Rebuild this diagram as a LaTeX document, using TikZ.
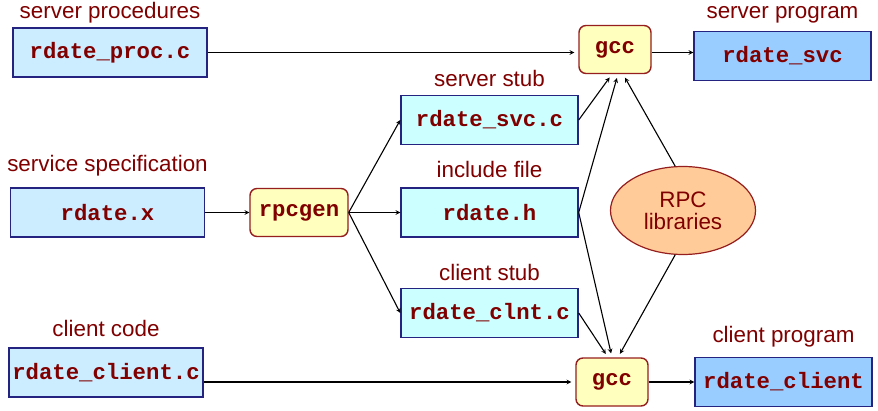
\documentclass[tikz,border=0pt]{standalone}
\usepackage{fontspec}
\setmainfont{Liberation Sans}
\setmonofont{Liberation Mono}
\usepackage{xcolor}
\usetikzlibrary{shapes,arrows,positioning,calc}

\definecolor{codered}{RGB}{128,0,0}
\definecolor{boxline}{RGB}{36,36,128}
\definecolor{toolline}{RGB}{150,30,30}
\definecolor{srcblue}{RGB}{204,236,255}
\definecolor{stubcyan}{RGB}{204,255,255}
\definecolor{progblue}{RGB}{153,204,255}
\definecolor{toolyellow}{RGB}{255,255,190}
\definecolor{liborange}{RGB}{255,204,153}

\begin{document}
\begin{tikzpicture}[
    x=1pt, y=1pt,
    node distance=160pt,
    every label/.style={text=codered, font=\fontsize{22.4}{26}\selectfont, inner sep=0pt, text depth=0pt},
    file/.style={rectangle, draw=boxline, line width=1.4pt, text=codered, font=\fontsize{22.3}{26}\selectfont\ttfamily\bfseries, minimum height=49pt, inner sep=2pt},
    source/.style={file, fill=srcblue, minimum width=194pt},
    stub/.style={file, fill=stubcyan, minimum width=177pt},
    program/.style={file, fill=progblue, minimum width=177pt},
    tool/.style={file, draw=toolline, fill=toolyellow, rounded corners=7pt, minimum height=48pt},
    lib/.style={ellipse, draw=toolline, line width=1.2pt, fill=liborange, text=codered, font=\fontsize{22.4}{22}\selectfont, align=center, minimum width=145pt, minimum height=88pt, inner sep=0pt},
    arrow/.style={->, >=stealth, line width=1.1pt},
    togcc/.style={arrow, shorten >=4pt}
]
    \useasboundingbox (0,0) rectangle (878,410);

    % Nodes
    \node[source, label={[label distance=16pt]above:service specification}] (spec) at (107.5,197.5) {rdate.x};
    \node[source, above of=spec, xshift=2.5pt, label={[label distance=9pt]above:server procedures}] (proc) {rdate\_proc.c};
    \node[source, below of=spec, xshift=-1.5pt, label={[label distance=11pt]above:client code}] (clientsrc) {rdate\_client.c};
    \node[tool, right of=spec, xshift=31.5pt, minimum width=98pt] (rpcgen) {rpcgen};
    \node[stub, right of=rpcgen, xshift=30.5pt, label={[label distance=10pt]above:include file}] (header) {rdate.h};
    \node[stub, above of=header, yshift=-67.5pt, label={[label distance=8.5pt]above:server stub}] (svcstub) {rdate\_svc.c};
    \node[stub, below of=header, yshift=59.5pt, label={[label distance=7pt]above:client stub}] (clntstub) {rdate\_clnt.c};
    \node[lib, right of=header, xshift=33.5pt, yshift=2pt] (rpclib) {RPC\\libraries};
    \node[tool, above of=rpclib, xshift=-68pt, yshift=1pt, minimum width=72pt] (gccsvc) {gcc};
    \node[tool, below of=rpclib, xshift=-71pt, yshift=-11.5pt, minimum width=72pt] (gccclnt) {gcc};
    \node[program, right of=gccsvc, xshift=7.5pt, yshift=-6.5pt, label={[label distance=12pt]above:server program}] (svcprog) {rdate\_svc};
    \node[program, right of=gccclnt, xshift=11.5pt, label={[label distance=14pt]above:client program}] (clntprog) {rdate\_client};

    % Arrows
    \draw[togcc] (proc.east) -- (proc.east -| gccsvc.west);
    \draw[arrow] (proc.east -| gccsvc.east) -- (proc.east -| svcprog.west);
    \draw[arrow] (spec) -- (rpcgen);
    \draw[arrow] (rpcgen.east) -- (svcstub.west);
    \draw[arrow] (rpcgen) -- (header);
    \draw[arrow] (rpcgen.east) -- (clntstub.west);
    \draw[togcc] (svcstub.east) -- ([xshift=-3pt]gccsvc.south);
    \draw[togcc] (header.east) -- ([xshift=3pt]gccsvc.south);
    \draw[togcc] (rpclib.100) -- ([xshift=8pt]gccsvc.south);
    \draw[togcc] (header.east) -- (gccclnt.north);
    \draw[togcc] (clntstub.east) -- ([xshift=-4pt]gccclnt.north);
    \draw[togcc] (rpclib.260) -- ([xshift=6pt]gccclnt.north);
    \draw[togcc] (clientsrc.east |- gccclnt.west) -- (gccclnt.west);
    \draw[arrow] (gccclnt) -- (clntprog);
\end{tikzpicture}
\end{document}
